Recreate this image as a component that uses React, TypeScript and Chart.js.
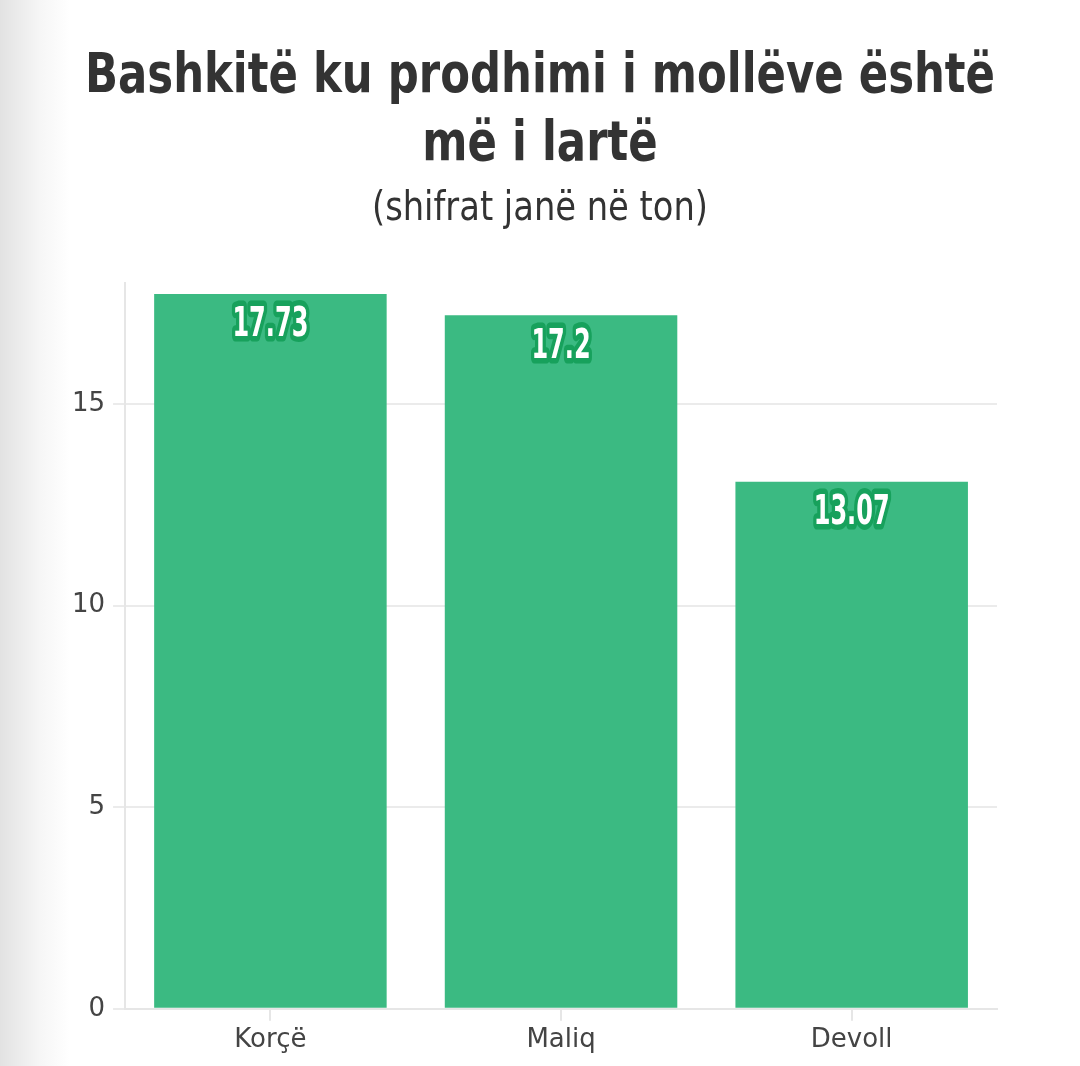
import React, { useEffect, useRef } from 'react';
import { Chart, registerables } from 'chart.js';

Chart.register(...registerables);

const categories = ['Korçë', 'Maliq', 'Devoll'];
const values = [17.73, 17.2, 13.07];
const titleLines = ['Bashkitë ku prodhimi i mollëve është', 'më i lartë'];
const subtitleText = '(shifrat janë në ton)';

const FONT = '"DejaVu Sans", sans-serif';

// draws text squeezed horizontally so it reads like the condensed face of the original
function drawSqueezed(ctx: CanvasRenderingContext2D, txt: string, cx: number, y: number, sx: number) {
  ctx.save();
  ctx.translate(cx, y);
  ctx.scale(sx, 1);
  ctx.fillText(txt, 0, 0);
  ctx.restore();
}

const headerPlugin = {
  id: 'header',
  beforeDraw(chart: any) {
    const ctx = chart.ctx as CanvasRenderingContext2D;
    ctx.save();
    ctx.fillStyle = '#333333';
    ctx.textAlign = 'center';
    ctx.textBaseline = 'alphabetic';
    ctx.font = `bold 56px ${FONT}`;
    const sx = 910 / ctx.measureText(titleLines[0]).width;
    drawSqueezed(ctx, titleLines[0], 540, 92, sx);
    drawSqueezed(ctx, titleLines[1], 540, 160, sx);
    ctx.font = `normal 40px ${FONT}`;
    const sx2 = 336 / ctx.measureText(subtitleText).width;
    drawSqueezed(ctx, subtitleText, 540, 220, sx2);
    ctx.restore();
  },
};

const valueLabels = {
  id: 'valueLabels',
  afterDatasetsDraw(chart: any) {
    const ctx = chart.ctx as CanvasRenderingContext2D;
    const meta = chart.getDatasetMeta(0);
    ctx.save();
    ctx.font = `bold 40px ${FONT}`;
    ctx.textAlign = 'center';
    ctx.textBaseline = 'middle';
    ctx.lineJoin = 'round';
    const sx = 76 / ctx.measureText('17.73').width;
    meta.data.forEach((bar: any, i: number) => {
      const txt = String(values[i]);
      ctx.save();
      ctx.translate(bar.x, bar.y + 32);
      ctx.scale(sx, 1);
      ctx.lineWidth = 11;
      ctx.strokeStyle = '#17a15c';
      ctx.strokeText(txt, 0, 0);
      ctx.fillStyle = '#ffffff';
      ctx.fillText(txt, 0, 0);
      ctx.restore();
    });
    ctx.restore();
  },
};

export default function App() {
  const canvasRef = useRef<HTMLCanvasElement>(null);
  const chartRef = useRef<Chart | null>(null);

  useEffect(() => {
    document.body.style.margin = '0';
    if (!canvasRef.current) return;
    if (chartRef.current) chartRef.current.destroy();
    const ctx = canvasRef.current.getContext('2d');
    if (!ctx) return;
    chartRef.current = new Chart(ctx, {
      type: 'bar',
      data: {
        labels: categories,
        datasets: [
          {
            data: values,
            backgroundColor: '#3bba82',
            borderWidth: 0,
            categoryPercentage: 1,
            barPercentage: 0.8,
          },
        ],
      },
      options: {
        responsive: false,
        animation: false,
        layout: { padding: { left: 64, right: 83, top: 283, bottom: 6 } },
        plugins: {
          legend: { display: false },
          tooltip: { enabled: false },
        },
        scales: {
          x: {
            grid: {
              offset: false,
              drawOnChartArea: false,
              drawTicks: true,
              tickLength: 12,
              color: '#e6e6e6',
              lineWidth: 2,
            },
            border: { color: '#e6e6e6', width: 2 },
            ticks: { color: '#444444', font: { family: FONT, size: 26 }, padding: 4 },
          },
          y: {
            min: 0,
            max: 18,
            ticks: {
              stepSize: 5,
              color: '#444444',
              font: { family: FONT, size: 26 },
              padding: 8,
              callback: (v: any) => (v % 5 === 0 ? v : ''),
            },
            grid: {
              color: (c: any) => (c.tick && c.tick.value % 5 === 0 ? '#ebebeb' : 'rgba(0,0,0,0)'),
              lineWidth: 2,
              tickLength: 12,
            },
            border: { color: '#e6e6e6', width: 2 },
          },
        },
      },
      plugins: [headerPlugin, valueLabels],
    });
    return () => {
      chartRef.current?.destroy();
      chartRef.current = null;
    };
  }, []);

  return (
    <div
      style={{
        width: 1080,
        height: 1066,
        background: 'linear-gradient(to right, #e2e2e2 0px, #f6f6f6 40px, #ffffff 70px)',
      }}
    >
      <canvas ref={canvasRef} width={1080} height={1066} style={{ display: 'block' }} />
    </div>
  );
}
